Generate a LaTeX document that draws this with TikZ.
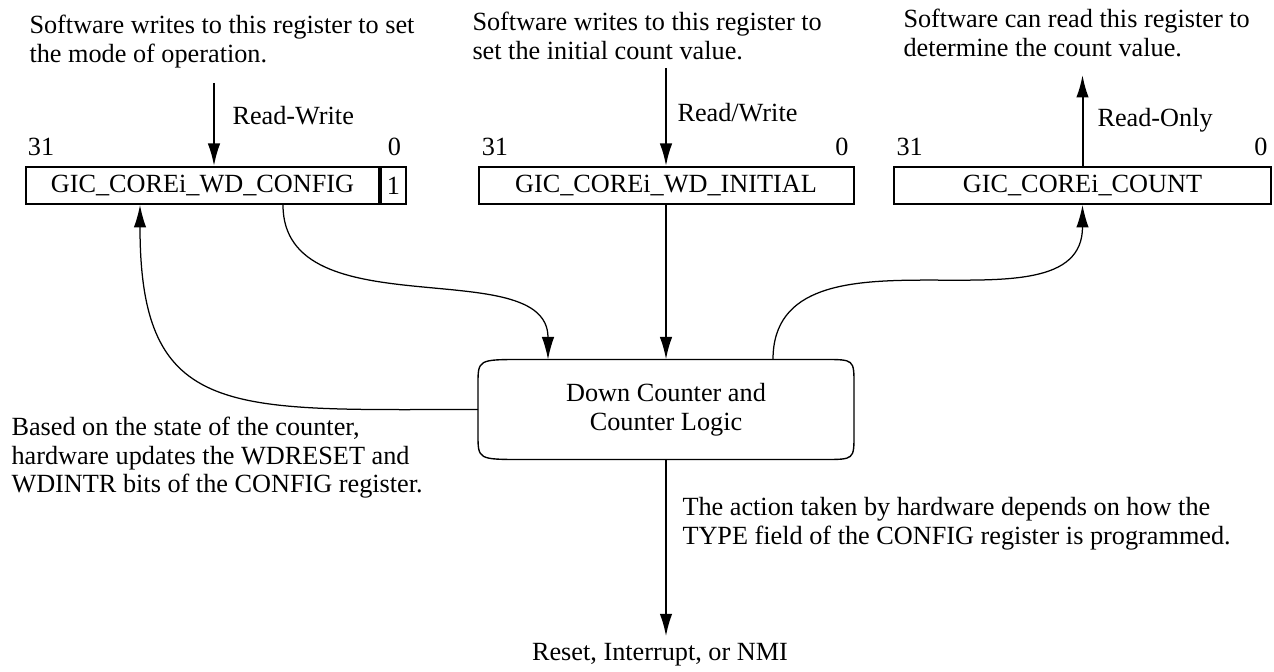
\documentclass[tikz,border=0pt]{standalone}
\usepackage{fontspec}
\setmainfont{Liberation Serif}
\usetikzlibrary{arrows.meta,positioning}

\begin{document}
\begin{tikzpicture}[
    x=0.4pt, y=-0.4pt,
    font=\fontsize{10.5}{11.4}\selectfont,
    register/.style={rectangle, draw, line width=0.8pt, minimum height=14.8pt, inner sep=0pt},
    note/.style={anchor=north west, align=left, inner sep=0pt},
    bitnum/.style={inner sep=0pt},
    access/.style={anchor=base west, inner sep=0pt},
    arrow/.style={-{Latex[length=9pt,width=5pt]}, line width=0.8pt},
    flow/.style={-{Latex[length=9pt,width=5pt]}, line width=0.5pt}
]
    \useasboundingbox (0,0) rectangle (1274,672);

    % registers
    \node[register, minimum width=141.2pt] (cfg) at (202.5,185.5) {GIC\_COREi\_WD\_CONFIG};
    \node[register, minimum width=10pt, anchor=west] (cfgbit) at (cfg.east) {1};
    \node[register, minimum width=150pt] (ini) at (666,185.5) {GIC\_COREi\_WD\_INITIAL};
    \node[register, minimum width=150.8pt] (cntreg) at (1082.5,185.5) {GIC\_COREi\_COUNT};

    \node[bitnum, anchor=base west] (cfghi) at ([xshift=1pt,yshift=4pt]cfg.north west) {31};
    \node[bitnum, anchor=base east] (cfglo) at ([xshift=-2.2pt,yshift=4pt]cfgbit.north east) {0};
    \node[bitnum, anchor=base west] (inihi) at ([xshift=1.5pt,yshift=4pt]ini.north west) {31};
    \node[bitnum, anchor=base east] (inilo) at ([xshift=-2.2pt,yshift=4pt]ini.north east) {0};
    \node[bitnum, anchor=base west] (cnthi) at ([xshift=1.2pt,yshift=4pt]cntreg.north west) {31};
    \node[bitnum, anchor=base east] (cntlo) at ([xshift=-1.6pt,yshift=4pt]cntreg.north east) {0};

    % software side
    \node[note] (cfgnote) at (29,15) {Software writes to this register to set\\the mode of operation.};
    \node[note] (ininote) at (472,12) {Software writes to this register to\\set the initial count value.};
    \node[note] (cntnote) at (903,9) {Software can read this register to\\determine the count value.};

    \coordinate (cfgin) at (214,83);
    \coordinate (iniin) at (666,68);
    \coordinate (cntout) at (1082.5,75);

    \draw[arrow] (cfgin) -- (cfgin |- cfg.north);
    \draw[arrow] (iniin) -- (iniin |- ini.north);
    \draw[arrow] (cntreg.north) -- (cntout);

    \node[access] (cfgacc) at (232,125) {Read-Write};
    \node[access] (iniacc) at (677,122) {Read/Write};
    \node[access] (cntacc) at (1097,127) {Read-Only};

    % counter logic
    \node[minimum width=150pt, minimum height=39.6pt, align=center, inner sep=0pt] (logic) at (666,409.5) {Down Counter and\\Counter Logic};
    \draw[line width=0.55pt] ([xshift=18pt]logic.north west) -- ([xshift=-12pt]logic.north east)
        .. controls (logic.north east) .. ([yshift=-10pt]logic.north east) -- ([yshift=10pt]logic.south east)
        .. controls (logic.south east) .. ([xshift=-12pt]logic.south east) -- ([xshift=18pt]logic.south west)
        .. controls (logic.south west) .. ([yshift=10pt]logic.south west) -- ([yshift=-10pt]logic.north west)
        .. controls (logic.north west) .. ([xshift=18pt]logic.north west);

    \draw[flow] ([xshift=32.2pt]cfg.south) .. controls +(0,126) and +(0,-108) .. ([xshift=-47.2pt]logic.north);
    \draw[arrow] (ini.south) -- (ini.south |- logic.north);
    \draw[flow] ([xshift=42.8pt]logic.north) .. controls +(0,-150) and +(0,137) .. (cntreg.south);
    \draw[flow] (logic.west) .. controls +(-248,0) and +(0,216) .. ([xshift=-25pt]cfg.south);

    \node[note] (hwnote) at (11,417) {Based on the state of the counter,\\hardware updates the WDRESET and\\WDINTR bits of the CONFIG register.};

    % hardware action
    \node[anchor=base, inner sep=2.4pt] (res) at (660,660) {Reset, Interrupt, or NMI};
    \draw[arrow] (logic.south) -- (logic.south |- res.north);
    \node[note] (typenote) at (682,497) {The action taken by hardware depends on how the\\TYPE field of the CONFIG register is programmed.};
\end{tikzpicture}
\end{document}
